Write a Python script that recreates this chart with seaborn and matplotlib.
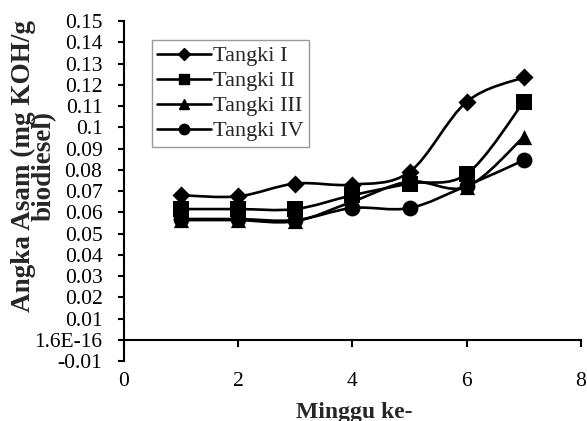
import numpy as np
import pandas as pd
import seaborn as sns
import matplotlib.pyplot as plt
from matplotlib.path import Path
from matplotlib.patches import PathPatch
from matplotlib.lines import Line2D

minggu = [1, 2, 3, 4, 5, 6, 7]
tangki_1 = [0.068, 0.0675, 0.0735, 0.073, 0.079, 0.112, 0.1235]
tangki_2 = [0.0615, 0.0615, 0.0615, 0.068, 0.0735, 0.078, 0.112]
tangki_3 = [0.0563, 0.0563, 0.0558, 0.065, 0.0745, 0.072, 0.0955]
tangki_4 = [0.0568, 0.0568, 0.0563, 0.062, 0.062, 0.0725, 0.0845]
labels = ["Tangki I", "Tangki II", "Tangki III", "Tangki IV"]
markers = ["D", "s", "^", "o"]
marker_sizes = [85, 120, 120, 130]

y_ticks = [-0.01, 0.0, 0.01, 0.02, 0.03, 0.04, 0.05, 0.06, 0.07, 0.08,
           0.09, 0.1, 0.11, 0.12, 0.13, 0.14, 0.15]
y_tick_labels = ["-0.01", "1.6E-16", "0.01", "0.02", "0.03", "0.04", "0.05",
                 "0.06", "0.07", "0.08", "0.09", "0.1", "0.11", "0.12",
                 "0.13", "0.14", "0.15"]
x_ticks = [0, 2, 4, 6, 8]

df = pd.DataFrame({"minggu": minggu * 4,
                   "asam": tangki_1 + tangki_2 + tangki_3 + tangki_4,
                   "tangki": np.repeat(labels, len(minggu))})

sns.set_style("ticks")
plt.rcParams["font.family"] = ["Liberation Serif", "DejaVu Serif"]
plt.rcParams["font.size"] = 15


def smooth_path(x, y):
    # excel-like smoothed line: catmull-rom as cubic bezier
    p = np.column_stack([x, y]).astype(float)
    p = np.vstack([p[0], p, p[-1]])
    verts = [p[1]]
    codes = [Path.MOVETO]
    for i in range(1, len(p) - 2):
        c1 = p[i] + (p[i + 1] - p[i - 1]) / 6
        c2 = p[i + 1] - (p[i + 2] - p[i]) / 6
        verts += [c1, c2, p[i + 1]]
        codes += [Path.CURVE4] * 3
    return Path(verts, codes)


fig = plt.figure(figsize=(5.87, 4.21), dpi=100)
ax = fig.add_axes([0.2112, 0.1425, 0.7785, 0.8076])

for lab, m, s in zip(labels, markers, marker_sizes):
    sub = df[df["tangki"] == lab]
    ax.add_patch(PathPatch(smooth_path(sub["minggu"], sub["asam"]),
                           facecolor="none", edgecolor="black", lw=1.9, zorder=2))
    sns.scatterplot(data=sub, x="minggu", y="asam", marker=m, s=s,
                    color="black", edgecolor="black", linewidth=0, ax=ax, zorder=3)

ax.set_xlim(0, 8)
ax.set_ylim(-0.01, 0.15)
ax.set_xticks(x_ticks)
ax.set_yticks(y_ticks)
ax.set_yticklabels(y_tick_labels)

ax.spines["top"].set_visible(False)
ax.spines["right"].set_visible(False)
ax.spines["bottom"].set_position(("data", 0))
for sp in ["left", "bottom"]:
    ax.spines[sp].set_linewidth(1.5)
    ax.spines[sp].set_color("black")
ax.tick_params(axis="y", direction="out", length=4.5, width=1.5, pad=11,
               labelsize=15.5, colors="black")
ax.tick_params(axis="x", direction="out", length=5, width=1.5, pad=18,
               labelsize=15.5, colors="black")

ax.set_xlabel("Minggu ke-", fontweight="bold", fontsize=17, va="center")
ax.xaxis.set_label_coords(0.505, -0.15)
ax.set_ylabel("Angka Asam (mg KOH/g\nbiodiesel)", fontweight="bold",
              fontsize=19.5, va="center", linespacing=0.8)
ax.yaxis.set_label_coords(-0.197, 0.575)

handles = [Line2D([], [], color="black", lw=1.9, marker=m, markersize=ms)
           for m, ms in zip(markers, [6, 7, 7, 7.5])]
leg = ax.legend(handles, labels, loc="upper left",
                bbox_to_anchor=(0.061, 0.943), frameon=True, fancybox=False,
                edgecolor="#808080", fontsize=16, handlelength=2.4,
                handletextpad=0.1, labelspacing=0.2, borderpad=0.25,
                borderaxespad=0)
leg.get_frame().set_linewidth(1.0)

fig.savefig("out.png", dpi=100)
